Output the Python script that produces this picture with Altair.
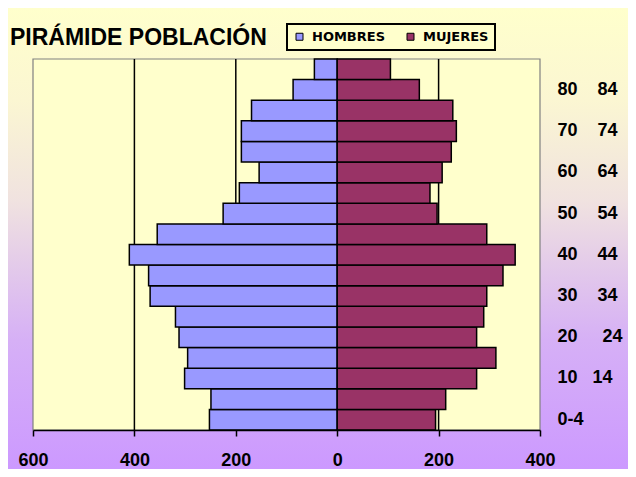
import json
import altair as alt
import pandas as pd

# ---- data ----
grupos = ["0-4", "5-9", "10-14", "15-19", "20-24", "25-29", "30-34", "35-39", "40-44",
          "45-49", "50-54", "55-59", "60-64", "65-69", "70-74", "75-79", "80-84", "85+"]
hombres = [252, 249, 301, 295, 312, 319, 369, 372, 410, 355, 225, 193, 154, 189, 189, 169, 87, 45]
mujeres = [194, 214, 275, 313, 275, 289, 295, 327, 351, 295, 197, 183, 207, 225, 235, 228, 162, 105]
NB = "\u00a0"
etiquetas = ["0-4", "", "10" + NB * 3 + "14", "", "20" + NB * 5 + "24", "",
             "30" + NB * 4 + "34", "", "40" + NB * 4 + "44", "", "50" + NB * 4 + "54", "",
             "60" + NB * 4 + "64", "", "70" + NB * 4 + "74", "", "80" + NB * 4 + "84", ""]
x_ticks = [-600, -400, -200, 0, 200, 400]
grid_vals = [-400, -200, 200]
series = ["HOMBRES", "MUJERES"]
colores = ["#9999ff", "#993366"]
titulo = "PIRÁMIDE POBLACIÓN"

W, H = 507, 371
PAD = {"left": 25, "top": 51, "right": 88, "bottom": 39}

df = pd.DataFrame({
    "grupo": grupos * 2,
    "sexo": [series[0]] * len(grupos) + [series[1]] * len(grupos),
    "valor": [-v for v in hombres] + mujeres,
})

xscale = alt.Scale(domain=[-600, 400], nice=False, zero=False)
xaxis = alt.Axis(values=x_ticks, labelExpr="abs(datum.value)", title=None, grid=False,
                 domainColor="black", domainWidth=1.5, tickColor="black", tickWidth=1.5,
                 tickSize=6, labelFont="Liberation Sans", labelFontSize=18,
                 labelFontWeight="bold", labelColor="black", labelPadding=15,
                 labelFlush=False, labelOverlap=False, zindex=1)

label_expr = (json.dumps(etiquetas, ensure_ascii=False)
              + "[indexof(" + json.dumps(grupos) + ", datum.value)]")

one = alt.Data(values=[{}])

bg = alt.Chart(one).mark_rect(
    color=alt.Gradient(
        gradient="linear",
        stops=[
            alt.GradientStop(color="#ffffcc", offset=0),
            alt.GradientStop(color="#fbf6d2", offset=0.2),
            alt.GradientStop(color="#f0e2e0", offset=0.42),
            alt.GradientStop(color="#e4cce9", offset=0.55),
            alt.GradientStop(color="#d6b0f6", offset=0.72),
            alt.GradientStop(color="#cc99ff", offset=1),
        ],
        x1=0, x2=0, y1=0, y2=1,
    )
).encode(x=alt.value(-PAD["left"]), x2=alt.value(W + PAD["right"]),
         y=alt.value(-PAD["top"]), y2=alt.value(H + PAD["bottom"]))

plotbg = alt.Chart(one).mark_rect(fill="#ffffcc", stroke="#808080", strokeWidth=1.2).encode(
    x=alt.value(0), x2=alt.value(W), y=alt.value(0), y2=alt.value(H))

rules = alt.Chart(pd.DataFrame({"v": grid_vals})).mark_rule(color="black", strokeWidth=1.5).encode(
    x=alt.X("v:Q", scale=xscale, axis=xaxis))

bars = alt.Chart(df).mark_bar(stroke="black", strokeWidth=1.5).encode(
    x=alt.X("valor:Q", scale=xscale, axis=xaxis),
    y=alt.Y("grupo:N",
            scale=alt.Scale(domain=list(reversed(grupos)), paddingInner=0, paddingOuter=0),
            axis=alt.Axis(orient="right", title=None, ticks=False, domain=False,
                          labelAlign="left", labelBaseline="middle", labelPadding=17,
                          labelFont="Liberation Sans", labelFontSize=18,
                          labelFontWeight="bold", labelColor="black",
                          labelExpr=label_expr, labelOverlap=False, zindex=1)),
    color=alt.Color("sexo:N", scale=alt.Scale(domain=series, range=colores),
                    legend=alt.Legend(orient="none", legendX=254, legendY=-35,
                                      direction="horizontal", title=None,
                                      symbolType="square", symbolSize=49,
                                      symbolStrokeColor="black", symbolStrokeWidth=1,
                                      labelFont="DejaVu Sans", labelFontSize=13,
                                      labelFontWeight="bold", labelColor="black",
                                      columnPadding=18, padding=6, labelOffset=6,
                                      fillColor="#ffffcc", strokeColor="black", zindex=1)),
)

title_text = alt.Chart(one).mark_text(
    text=titulo, align="left", baseline="alphabetic", font="Liberation Sans",
    fontSize=23, fontWeight="bold", color="black"
).encode(x=alt.value(-23), y=alt.value(-14))

chart = alt.layer(bg, plotbg, rules, bars, title_text).properties(
    width=W, height=H,
    autosize=alt.AutoSizeParams(type="none"),
    padding=PAD,
).configure_view(stroke="transparent").configure_legend(strokeWidth=2)

chart.save("out.html", embed_options={"renderer": "svg", "actions": False})
